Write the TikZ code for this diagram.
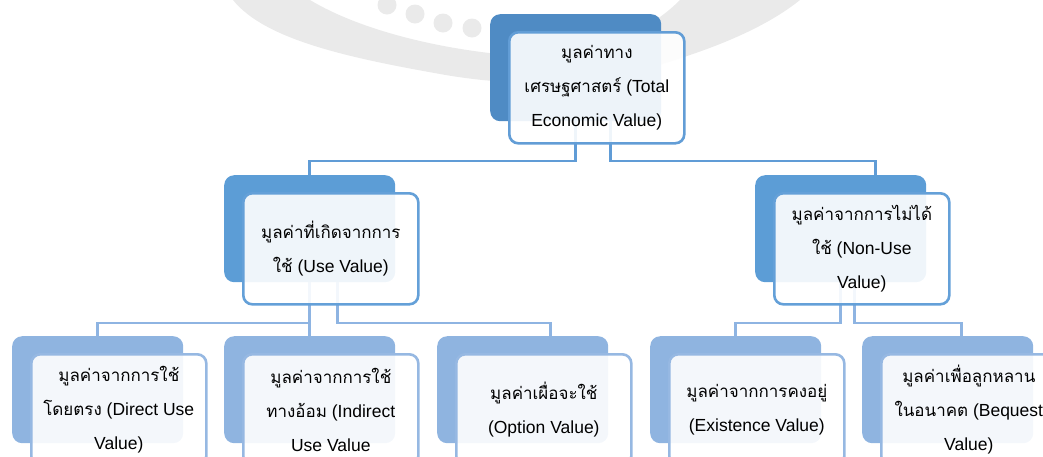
\documentclass[tikz,border=0pt]{standalone}
\usepackage{fontspec}
\setmainfont{Liberation Sans}
\newfontfamily\thaifont[Script=Thai,Scale=0.97]{Loma}
\newcommand{\thx}[1]{{\thaifont #1}}
\usetikzlibrary{backgrounds}

\definecolor{backtop}{RGB}{79,139,196}
\definecolor{backmid}{RGB}{92,157,214}
\definecolor{backlow}{RGB}{143,180,224}
\definecolor{edgetop}{RGB}{98,157,214}
\definecolor{edgemid}{RGB}{100,160,216}
\definecolor{edgelow}{RGB}{150,184,226}
\definecolor{linkmid}{RGB}{96,156,214}
\definecolor{linklow}{RGB}{142,180,226}
\definecolor{wmgrey}{RGB}{234,234,234}

\tikzset{
  backbox/.style={fill=#1, draw=none, rounded corners=10pt,
    minimum width=171pt, minimum height=107pt, anchor=north west, inner sep=0pt},
  frontbox/.style={draw=#1, line width=2.6pt, fill=white, fill opacity=0.9,
    text opacity=1, rounded corners=9pt, minimum width=175pt, minimum height=111pt,
    anchor=north west, inner sep=0pt, align=center,
    font=\fontsize{17.5}{34}\selectfont},
  linkA/.style={draw=linkmid, line width=2.8pt},
  linkB/.style={draw=linklow, line width=2.8pt},
}

\begin{document}
\begin{tikzpicture}[x=1pt,y=-1pt]
\useasboundingbox (0,0) rectangle (1043,456);
\clip (0,0) rectangle (1043,456);

% back plates
\node[backbox=backtop] (topb) at (490,14) {};
\node[backbox=backmid] (ulb) at (224,175) {};
\node[backbox=backmid] (urb) at (755,175) {};
\node[backbox=backlow] (d1b) at (12,336) {};
\node[backbox=backlow] (d2b) at (224,336) {};
\node[backbox=backlow] (d3b) at (437,336) {};
\node[backbox=backlow] (d4b) at (650,336) {};
\node[backbox=backlow] (d5b) at (862,336) {};

% connector bus levels and offset drops
\coordinate (busA) at (0,161);
\coordinate (busB) at (0,323);
\coordinate (tA) at ([xshift=35pt]topb.south);
\coordinate (uA) at ([xshift=28pt]ulb.south);
\coordinate (rA) at ([xshift=14pt]urb.south);
\coordinate (urIn) at ([xshift=35pt]urb.north);
\coordinate (d3In) at ([xshift=28pt]d3b.north);
\coordinate (d5In) at ([xshift=14pt]d5b.north);

\begin{scope}[on background layer]
  % faint background swoosh with dots
  \fill[wmgrey] (233,0) .. controls (265,40) and (350,58) .. (440,74)
    .. controls (540,92) and (620,80) .. (690,55)
    .. controls (740,38) and (775,20) .. (800,0) -- (680,0)
    .. controls (640,40) and (580,58) .. (520,56)
    .. controls (440,50) and (360,30) .. (310,0) -- cycle;
  \fill[wmgrey] (387,5) circle (9.5) (415,14) circle (9.5)
    (443,23) circle (9.5) (472,28) circle (9.5);
  % connectors beneath the plates
  \draw[linkA] (topb.south) -- (topb.south |- busA) -| (ulb.north);
  \draw[linkA] (tA) -- (tA |- busA) -| (urIn);
  \draw[linkB] (ulb.south) -- (ulb.south |- busB) -| (d1b.north);
  \draw[linkB] (ulb.south) -- (d2b.north);
  \draw[linkB] (uA) -- (uA |- busB) -| (d3In);
  \draw[linkB] (urb.south) -- (urb.south |- busB) -| (d4b.north);
  \draw[linkB] (rA) -- (rA |- busB) -| (d5In);
\end{scope}

% front cards with the labels
\node[frontbox=edgetop] (top) at (508,31)
  {\thx{มูลค่าทาง}\\\thx{เศรษฐศาสตร์} (Total\\Economic Value)};
\node[frontbox=edgemid] (ul) at (242,192)
  {\thx{มูลค่าที่เกิดจากการ}\\\thx{ใช้} (Use Value)};
\node[frontbox=edgemid] (ur) at (773,192)
  {\thx{มูลค่าจากการไม่ได้}\\\thx{ใช้} (Non-Use\\Value)};
\node[frontbox=edgelow] (d1) at (30,353)
  {\thx{มูลค่าจากการใช้}\\\thx{โดยตรง} (Direct Use\\Value)};
\node[frontbox=edgelow] (d2) at (242,353)
  {\thx{มูลค่าจากการใช้}\\\thx{ทางอ้อม} (Indirect\\Use Value};
\node[frontbox=edgelow] (d3) at (455,353)
  {\thx{มูลค่าเผื่อจะใช้}\\(Option Value)};
\node[frontbox=edgelow] (d4) at (668,353)
  {\thx{มูลค่าจากการคงอยู่}\\(Existence Value)};
\node[frontbox=edgelow] (d5) at (880,353)
  {\thx{มูลค่าเพื่อลูกหลาน}\\\thx{ในอนาคต} (Bequest\\Value)};
\end{tikzpicture}
\end{document}
